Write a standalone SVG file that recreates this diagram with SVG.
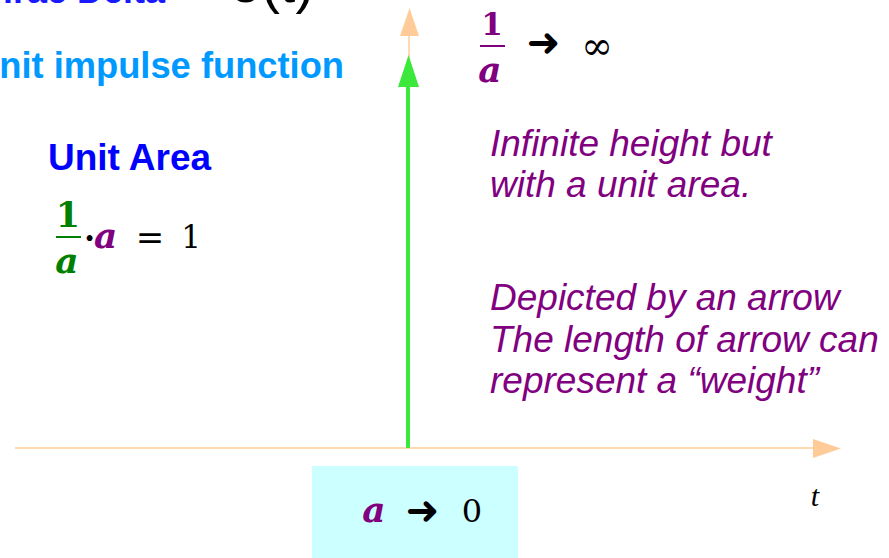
<svg xmlns="http://www.w3.org/2000/svg" width="889" height="558" viewBox="0 0 889 558">
<style>
.title{font-family:"Liberation Sans",Arial,sans-serif;font-weight:bold}
.note{font-family:"Liberation Sans",Arial,sans-serif;font-style:italic;font-size:37px;fill:#800080}
.math{font-family:"DejaVu Serif","Liberation Serif",serif}
.var{font-family:"DejaVu Serif","Liberation Serif",serif;font-weight:bold;font-style:italic;font-size:36px}
.arr{font-family:"DejaVu Sans",sans-serif;font-size:40px;fill:#000}
.axis{stroke:#ffcc99;stroke-width:1.5;fill:none}
</style>
<rect width="889" height="558" fill="#ffffff"/>
<g id="connectors">
  <line class="axis" x1="15" y1="448" x2="815" y2="448"/>
  <polygon points="813,439 841,448.5 813,458" fill="#ffcc99"/>
  <line class="axis" x1="409" y1="448" x2="409" y2="34"/>
  <polygon points="400,36 409.5,8 419,36" fill="#ffcc99"/>
  <line x1="408" y1="448" x2="408" y2="84" stroke="#3ce83c" stroke-width="4"/>
  <polygon points="398,87 408.5,55 419,87" fill="#3ce83c"/>
</g>
<g id="title">
  <text class="title" x="-23" y="3" font-size="36" fill="#1a1aff">Dirac Delta</text>
  <text x="230" y="2" font-family="'Liberation Sans',Arial,sans-serif" font-size="56" fill="#000">δ(t)</text>
  <text class="title" x="-27" y="78" font-size="36.3" fill="#0099ff">Unit impulse function</text>
</g>
<g id="unit-area">
  <text class="title" x="48" y="170" font-size="37" fill="#0000ff">Unit Area</text>
  <text class="math" x="68" y="227" font-size="35" font-weight="bold" fill="#008000" text-anchor="middle">1</text>
  <line x1="56" y1="237" x2="81" y2="237" stroke="#008000" stroke-width="2"/>
  <text class="var" x="67" y="273" fill="#008000" text-anchor="middle">a</text>
  <text class="math" x="84" y="249" font-size="32" font-weight="bold" fill="#000">·</text>
  <text class="var" x="94" y="248" fill="#800080">a</text>
  <text class="math" x="150" y="249" font-size="34" fill="#000" text-anchor="middle">=</text>
  <text class="math" x="191" y="248" font-size="31" fill="#000" text-anchor="middle">1</text>
</g>
<g id="height-limit">
  <text class="math" x="492" y="35" font-size="31" font-weight="bold" fill="#800080" text-anchor="middle">1</text>
  <line x1="480" y1="46" x2="505" y2="46" stroke="#800080" stroke-width="2"/>
  <text class="var" x="490" y="82" fill="#800080" text-anchor="middle">a</text>
  <text class="arr" x="543.5" y="56" text-anchor="middle">➜</text>
  <text class="math" x="597" y="59" font-size="38" fill="#000" text-anchor="middle">∞</text>
</g>
<g id="notes">
  <text class="note" x="490" y="156">Infinite height but</text>
  <text class="note" x="490" y="197">with a unit area.</text>
  <text class="note" x="490" y="310">Depicted by an arrow</text>
  <text class="note" x="490" y="352">The length of arrow can</text>
  <text class="note" x="490" y="393">represent a “weight”</text>
</g>
<g id="width-limit">
  <rect x="312" y="466" width="206" height="92" fill="#ccffff"/>
  <text class="var" x="374" y="522" fill="#800080" text-anchor="middle">a</text>
  <text class="arr" x="422.5" y="524" text-anchor="middle">➜</text>
  <text class="math" x="472" y="522" font-size="32" fill="#000" text-anchor="middle">0</text>
</g>
<g id="t-label">
  <text x="815" y="506" font-family="'Liberation Serif','Times New Roman',serif" font-style="italic" font-size="30" fill="#000" text-anchor="middle">t</text>
</g>
</svg>
